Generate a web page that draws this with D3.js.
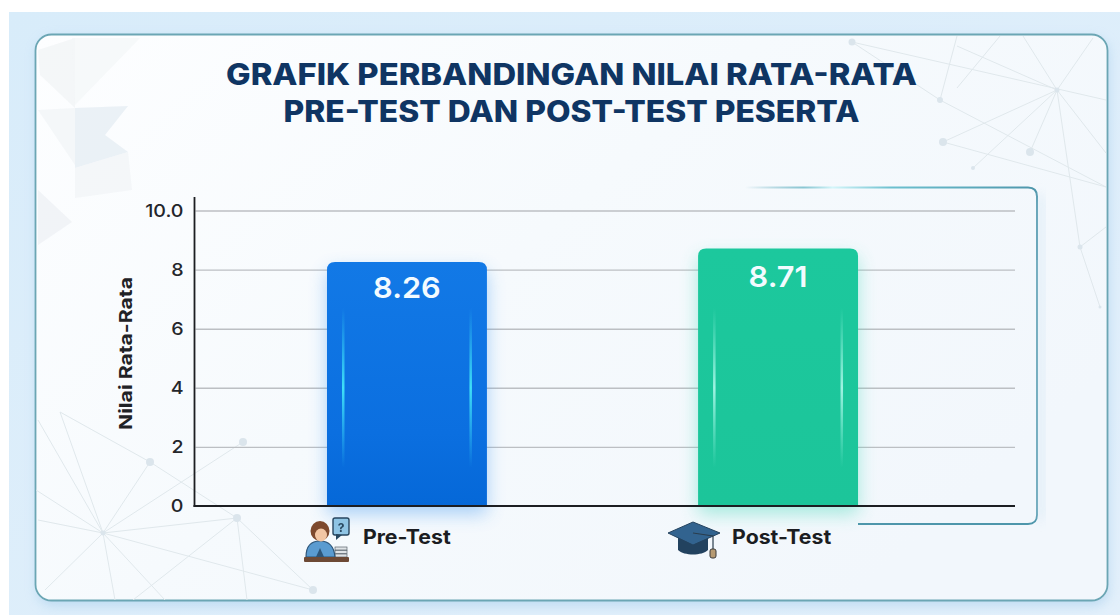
<!DOCTYPE html>
<html>
<head>
<meta charset="utf-8">
<script src="https://cdn.jsdelivr.net/npm/d3@7"></script>
<style>
    html, body { margin: 0; padding: 0; background: #fff; }
    svg { display: block; }
    text { font-family: Inter, "Open Sans", sans-serif; }
</style>
</head>
<body>
<svg id="chart" width="1120" height="615"></svg>
<script>
// chart values
const categories = ["Pre-Test", "Post-Test"];
const scores = [8.26, 8.71];
const tickValues = [0, 2, 4, 6, 8, 10];
const tickLabels = ["0", "2", "4", "6", "8", "10.0"];
const titleLines = ["GRAFIK PERBANDINGAN NILAI RATA-RATA", "PRE-TEST DAN POST-TEST PESERTA"];
const yAxisTitle = "Nilai Rata-Rata";

// background decoration, not data
const netTopRight = [
    [[852, 42], [1106, 100]], [[852, 42], [940, 100]], [[940, 100], [1106, 187]],
    [[943, 142], [1057, 90]], [[943, 142], [1106, 187]], [[973, 168], [1057, 90]],
    [[1030, 152], [1057, 90]], [[1057, 90], [1093, 38]], [[1057, 90], [1023, 36]],
    [[1057, 90], [957, 46]], [[940, 100], [957, 36]], [[1000, 36], [957, 88]],
    [[1057, 90], [1106, 153]], [[1057, 90], [1080, 247]], [[1080, 247], [1100, 307]],
    [[1080, 247], [1106, 227]]
];
const netBottomLeft = [
    [[103, 533], [150, 462]], [[103, 533], [243, 442]], [[103, 533], [237, 518]],
    [[103, 533], [313, 590]], [[103, 533], [60, 412]], [[103, 533], [36, 490]],
    [[103, 533], [38, 520]], [[103, 533], [45, 590]], [[103, 533], [115, 600]],
    [[103, 533], [165, 600]], [[60, 412], [150, 462]], [[150, 462], [237, 518]],
    [[237, 518], [313, 590]], [[237, 518], [133, 600]], [[237, 518], [247, 600]],
    [[38, 420], [103, 533]]
];
const netNodes = [
    [852, 42, 3.5], [940, 100, 3], [943, 142, 4], [973, 168, 2], [1030, 152, 4], [1057, 90, 2.5],
    [1080, 247, 2.5], [1100, 307, 1.5], [103, 533, 2.5], [150, 462, 4], [237, 518, 4],
    [313, 590, 4], [243, 442, 4]
];
const shards = [
    ["M38,50 L75,38 L75,108 L40,75 Z", "#eef1f4", 0.6],
    ["M75,108 L128,106 L105,135 L128,152 L75,168 Z", "#e6edf4", 0.8],
    ["M38,110 L75,108 L75,165 Z", "#f1f4f7", 0.7],
    ["M75,168 L128,152 L132,190 L75,198 Z", "#f1f4f7", 0.7],
    ["M38,190 L72,222 L38,245 Z", "#eceff3", 0.7],
    ["M72,38 L140,38 L75,105 Z", "#f4f6f8", 0.7]
];

const svg = d3.select("#chart");
const defs = svg.append("defs");

function addGradient(id, stops, x2, y2) {
    const g = defs.append("linearGradient").attr("id", id)
        .attr("x1", 0).attr("y1", 0).attr("x2", x2).attr("y2", y2);
    stops.forEach(s => g.append("stop").attr("offset", s[0]).attr("stop-color", s[1]).attr("stop-opacity", s[2]));
}
function addBlur(id, amount) {
    defs.append("filter").attr("id", id)
        .attr("x", "-30%").attr("y", "-30%").attr("width", "160%").attr("height", "160%")
        .append("feGaussianBlur").attr("stdDeviation", amount);
}
// the reference face is wider than any installed one, so stretch the glyphs
function widen(sel, k) {
    sel.each(function () {
        d3.select(this).attr("textLength", this.getComputedTextLength() * k)
            .attr("lengthAdjust", "spacingAndGlyphs");
    });
}

addGradient("pageBg", [[0, "#d8ecfa", 1], [1, "#e3f0fb", 1]], 1, 1);
addGradient("cardBg", [[0, "#fdfeff", 1], [0.5, "#f6fafd", 1], [1, "#f2f7fc", 1]], 1, 0.6);
addGradient("blueBar", [[0, "#1279e6", 1], [0.7, "#0b6fe0", 1], [1, "#0568d8", 1]], 0, 1);
addGradient("greenBar", [[0, "#1cc89d", 1], [1, "#1cc59a", 1]], 0, 1);
addGradient("blueGlint", [[0, "#37d6f5", 0], [0.5, "#3fe0f7", 1], [1, "#37d6f5", 0]], 0, 1);
addGradient("greenGlint", [[0, "#8ff0dc", 0], [0.5, "#a6f5e6", 0.95], [1, "#8ff0dc", 0]], 0, 1);
addGradient("frameTop", [[0, "#4e9fb3", 0], [0.2, "#6fb9c8", 0.8], [0.3, "#d4f6fa", 1], [0.5, "#6cc0cf", 1], [1, "#4e96ab", 1]], 1, 0);
addGradient("frameBottom", [[0, "#4e9fb3", 0.1], [0.15, "#4e9fb3", 1], [0.45, "#8fdde6", 1], [1, "#4e96ab", 1]], 1, 0);
addBlur("soft", 6);
addBlur("glow", 9);
addBlur("haze", 2.5);
addBlur("tiny", 0.5);
defs.append("clipPath").attr("id", "cardClip")
    .append("rect").attr("x", 36).attr("y", 35).attr("width", 1071).attr("height", 565).attr("rx", 15);

// page and card
svg.append("rect").attr("x", 9).attr("y", 12).attr("width", 1111).attr("height", 603).attr("fill", "url(#pageBg)");
svg.append("rect").attr("x", 37).attr("y", 38).attr("width", 1072).attr("height", 568).attr("rx", 16)
    .attr("fill", "#a9cfec").attr("opacity", 0.6).attr("filter", "url(#soft)");
svg.append("rect").attr("x", 35.5).attr("y", 34.5).attr("width", 1072).attr("height", 566).attr("rx", 16)
    .attr("fill", "url(#cardBg)").attr("stroke", "#6ba6b4").attr("stroke-width", 1.8);

const deco = svg.append("g").attr("clip-path", "url(#cardClip)");
deco.selectAll("path.shard").data(shards).join("path").attr("class", "shard")
    .attr("d", d => d[0]).attr("fill", d => d[1]).attr("opacity", d => d[2]);
deco.selectAll("line.net").data(netTopRight.concat(netBottomLeft)).join("line").attr("class", "net")
    .attr("x1", d => d[0][0]).attr("y1", d => d[0][1]).attr("x2", d => d[1][0]).attr("y2", d => d[1][1])
    .attr("stroke", "#e0e8ec").attr("stroke-width", 1);
deco.selectAll("circle.node").data(netNodes).join("circle").attr("class", "node")
    .attr("cx", d => d[0]).attr("cy", d => d[1]).attr("r", d => d[2]).attr("fill", "#dbe5ec");

// title
svg.selectAll("text.title").data(titleLines).join("text").attr("class", "title")
    .attr("x", 571.5).attr("y", (d, i) => i === 0 ? 85 : 122)
    .attr("text-anchor", "middle").attr("fill", "#0f3563")
    .attr("font-size", 29.5).attr("font-weight", 800)
    .attr("textLength", (d, i) => i === 0 ? 691 : 576)
    .attr("lengthAdjust", "spacingAndGlyphs")
    .text(d => d);

// inner frame behind the plot
svg.append("path").attr("d", "M745,188 H1030")
    .attr("fill", "none").attr("stroke", "#a6e6ee").attr("stroke-width", 5)
    .attr("opacity", 0.45).attr("filter", "url(#haze)");
svg.append("path").attr("d", "M745,187.5 H1028 Q1037,187.5 1037,196.5 V260")
    .attr("fill", "none").attr("stroke", "url(#frameTop)").attr("stroke-width", 2);
svg.append("path").attr("d", "M1037,260 V515 Q1037,524 1028,524 H858")
    .attr("fill", "none").attr("stroke", "#4e96ab").attr("stroke-width", 1.8);
svg.append("path").attr("d", "M860,524 H1000")
    .attr("fill", "none").attr("stroke", "url(#frameBottom)").attr("stroke-width", 2);
svg.append("rect").attr("x", 1038).attr("y", 195).attr("width", 6).attr("height", 325)
    .attr("fill", "#cfe4f3").attr("opacity", 0.7).attr("filter", "url(#soft)");

// scales
const plot = { left: 194.5, right: 1015, top: 197, base: 506, y10: 210.5 };
const x = d3.scaleBand().domain(categories).range([plot.left, plot.right])
    .paddingInner(0.569).paddingOuter(0.39).align(0.4577);
const y = d3.scaleLinear().domain([0, 10]).range([plot.base, plot.y10]);

// gridlines + tick labels
const yAxis = svg.append("g").attr("transform", `translate(${plot.left},0)`)
    .call(d3.axisLeft(y).tickValues(tickValues).tickSize(0).tickPadding(11)
        .tickFormat((d, i) => tickLabels[i]));
yAxis.select(".domain").remove();
yAxis.selectAll(".tick text")
    .attr("fill", "#24262b").attr("font-size", 17.5).attr("font-weight", 500)
    .style("font-family", "Inter, sans-serif")
    .call(widen, 1.12);
yAxis.selectAll(".tick").filter(d => d !== 0).append("line")
    .attr("x1", 1).attr("x2", plot.right - plot.left)
    .attr("stroke", "#bcbfc3").attr("stroke-width", 1.4);

svg.append("text")
    .attr("transform", `translate(132,353.5) rotate(-90)`)
    .attr("text-anchor", "middle").attr("fill", "#1f2226")
    .attr("font-size", 18).attr("font-weight", 700)
    .attr("textLength", 153).attr("lengthAdjust", "spacingAndGlyphs")
    .text(yAxisTitle);

// bars
const barData = categories.map((c, i) => ({ name: c, value: scores[i], index: i }));

function barPath(d) {
    const x0 = x(d.name), x1 = x0 + x.bandwidth(), top = y(d.value), r = 8;
    return `M${x0},${y(0)} V${top + r} Q${x0},${top} ${x0 + r},${top} H${x1 - r} Q${x1},${top} ${x1},${top + r} V${y(0)} Z`;
}

svg.selectAll("path.barGlow").data(barData).join("path").attr("class", "barGlow")
    .attr("d", d => barPath(d))
    .attr("transform", "translate(0,8)")
    .attr("fill", d => d.index === 0 ? "#4b9df0" : "#45d8b8")
    .attr("opacity", 0.45).attr("filter", "url(#glow)");
svg.selectAll("path.bar").data(barData).join("path").attr("class", "bar")
    .attr("d", barPath)
    .attr("fill", d => d.index === 0 ? "url(#blueBar)" : "url(#greenBar)");

[15, x.bandwidth() - 17.5].forEach(off => {
    svg.selectAll(null).data(barData).join("rect")
        .attr("x", d => x(d.name) + off).attr("width", 2.5)
        .attr("y", y(6.7)).attr("height", y(1.3) - y(6.7))
        .attr("fill", d => d.index === 0 ? "url(#blueGlint)" : "url(#greenGlint)");
});

svg.selectAll("text.value").data(barData).join("text").attr("class", "value")
    .attr("x", d => x(d.name) + x.bandwidth() / 2)
    .attr("y", d => y(d.value) + (d.index === 0 ? 36 : 38))
    .attr("text-anchor", "middle").attr("fill", "#f3fbff")
    .attr("font-size", 29).attr("font-weight", 600).text(d => d.value.toFixed(2))
    .call(widen, 1.06);

// axis lines
svg.append("line").attr("x1", plot.left).attr("x2", plot.left)
    .attr("y1", plot.top).attr("y2", plot.base + 1)
    .attr("stroke", "#1c1e22").attr("stroke-width", 1.8);
svg.append("line").attr("x1", plot.left - 1).attr("x2", plot.right)
    .attr("y1", plot.base).attr("y2", plot.base)
    .attr("stroke", "#1c1e22").attr("stroke-width", 2.2);

// category labels
const labelOffset = [-44, -46];
svg.selectAll("text.cat").data(barData).join("text").attr("class", "cat")
    .attr("x", d => x(d.name) + x.bandwidth() / 2 + labelOffset[d.index])
    .attr("y", 544).attr("fill", "#1b1d22")
    .attr("font-size", 19.5).attr("font-weight", 700).text(d => d.name)
    .call(widen, 1.09);

// pre-test icon
const person = svg.append("g").attr("filter", "url(#tiny)");
person.append("rect").attr("x", 333).attr("y", 518).attr("width", 16).attr("height", 17).attr("rx", 2)
    .attr("fill", "#8fc4e4").attr("stroke", "#28465f").attr("stroke-width", 1.4);
person.append("text").attr("x", 341).attr("y", 532).attr("text-anchor", "middle")
    .attr("font-size", 12).attr("font-weight", 700).attr("fill", "#28465f").text("?");
person.append("path").attr("d", "M336,534 L336,540 L342,535 Z").attr("fill", "#28465f");
[547, 550.5, 554].forEach(top => {
    person.append("rect").attr("x", 335).attr("y", top).attr("width", 12).attr("height", 3)
        .attr("fill", "#dfe3e6").attr("stroke", "#59636b").attr("stroke-width", 0.7);
});
person.append("path").attr("d", "M306,557 C306,546 311,541 320,541 C329,541 334,546 335,557 Z")
    .attr("fill", "#5a9bd0").attr("stroke", "#2d5578").attr("stroke-width", 1.2);
person.append("path").attr("d", "M316,557 L320,548 L324,557 Z").attr("fill", "#2d5578");
person.append("ellipse").attr("cx", 320).attr("cy", 531).attr("rx", 9.5).attr("ry", 10).attr("fill", "#7d4a2d");
person.append("ellipse").attr("cx", 321).attr("cy", 535).attr("rx", 6).attr("ry", 6.5).attr("fill", "#f2c6a4");
person.append("rect").attr("x", 304).attr("y", 557).attr("width", 45).attr("height", 5).attr("rx", 1).attr("fill", "#6d4a35");

// post-test icon
const cap = svg.append("g").attr("filter", "url(#tiny)");
cap.append("path").attr("d", "M678,537 V550 C684,556 702,556 708,550 V537 Z").attr("fill", "#24425e");
cap.append("path").attr("d", "M668,533 L693,522 L720,533 L693,545 Z").attr("fill", "#33648f").attr("stroke", "#24425e").attr("stroke-width", 1);
cap.append("path").attr("d", "M693,533 L713,536 V549").attr("fill", "none").attr("stroke", "#2b3d4e").attr("stroke-width", 1.2);
cap.append("rect").attr("x", 710).attr("y", 549).attr("width", 6).attr("height", 9).attr("rx", 2)
    .attr("fill", "#b69a72").attr("stroke", "#3b3b3b").attr("stroke-width", 1);
</script>
</body>
</html>
